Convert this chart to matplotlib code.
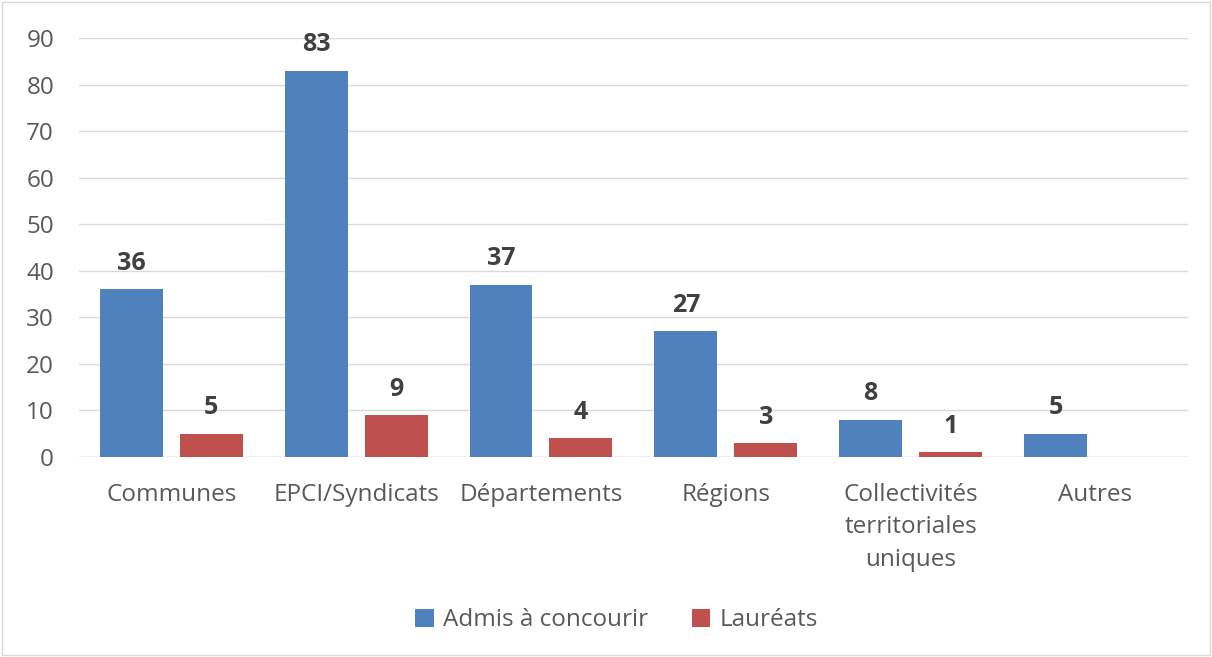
import numpy as np
from matplotlib import pyplot as plt
from matplotlib.patches import Rectangle

categories = ["Communes", "EPCI/Syndicats", "Départements", "Régions",
              "Collectivités\nterritoriales\nuniques", "Autres"]
admis = [36, 83, 37, 27, 8, 5]
laureats = [5, 9, 4, 3, 1, None]
yticks = [0, 10, 20, 30, 40, 50, 60, 70, 80, 90]

blue = "#4f81bd"
red = "#c0504d"
grey = "#595959"


def main():
    plt.rcParams["font.family"] = ["Open Sans", "DejaVu Sans"]
    fig = plt.figure(figsize=(12.12, 6.57), dpi=100)
    ax = fig.add_axes([0.0652, 0.3044, 0.9148, 0.6376])

    x = np.arange(len(categories))
    w = 0.34
    off = 0.216
    lau = [v if v is not None else 0 for v in laureats]

    ax.bar(x - off, admis, w, color=blue, label="Admis à concourir", zorder=2)
    ax.bar(x + off, lau, w, color=red, label="Lauréats", zorder=2)

    # value labels above bars
    for i, v in enumerate(admis):
        ax.annotate(str(v), (x[i] - off, v), xytext=(0, 14), textcoords="offset points",
                    ha="center", va="baseline", fontsize=18, fontweight="bold", color="#404040")
    for i, v in enumerate(laureats):
        if v is None:
            continue
        ax.annotate(str(v), (x[i] + off, v), xytext=(0, 14), textcoords="offset points",
                    ha="center", va="baseline", fontsize=18, fontweight="bold", color="#404040")

    ax.set_xlim(-0.5, len(categories) - 0.5)
    ax.set_ylim(0, 90)
    ax.set_yticks(yticks)
    ax.set_xticks(x)
    ax.set_xticklabels(categories, linespacing=1.45)
    ax.grid(axis="y", color="#d9d9d9", linewidth=1, zorder=0)
    for s in ax.spines.values():
        s.set_visible(False)
    ax.axhline(0, color="#d9d9d9", linewidth=1, zorder=1)
    ax.tick_params(axis="both", length=0, labelsize=17.5, labelcolor=grey)
    ax.tick_params(axis="y", pad=18)
    ax.tick_params(axis="x", pad=19)

    fig.legend(loc="center", bbox_to_anchor=(0.509, 0.056), ncol=2, frameon=False,
               fontsize=17.5, labelcolor=grey, handlelength=0.75, handleheight=0.75,
               columnspacing=1.8, handletextpad=0.4)

    fig.patches.append(Rectangle((0.002, 0.003), 0.996, 0.994, transform=fig.transFigure,
                                 fill=False, edgecolor="#d9d9d9", linewidth=1))

    fig.savefig("out.png", dpi=100)


if __name__ == "__main__":
    main()
